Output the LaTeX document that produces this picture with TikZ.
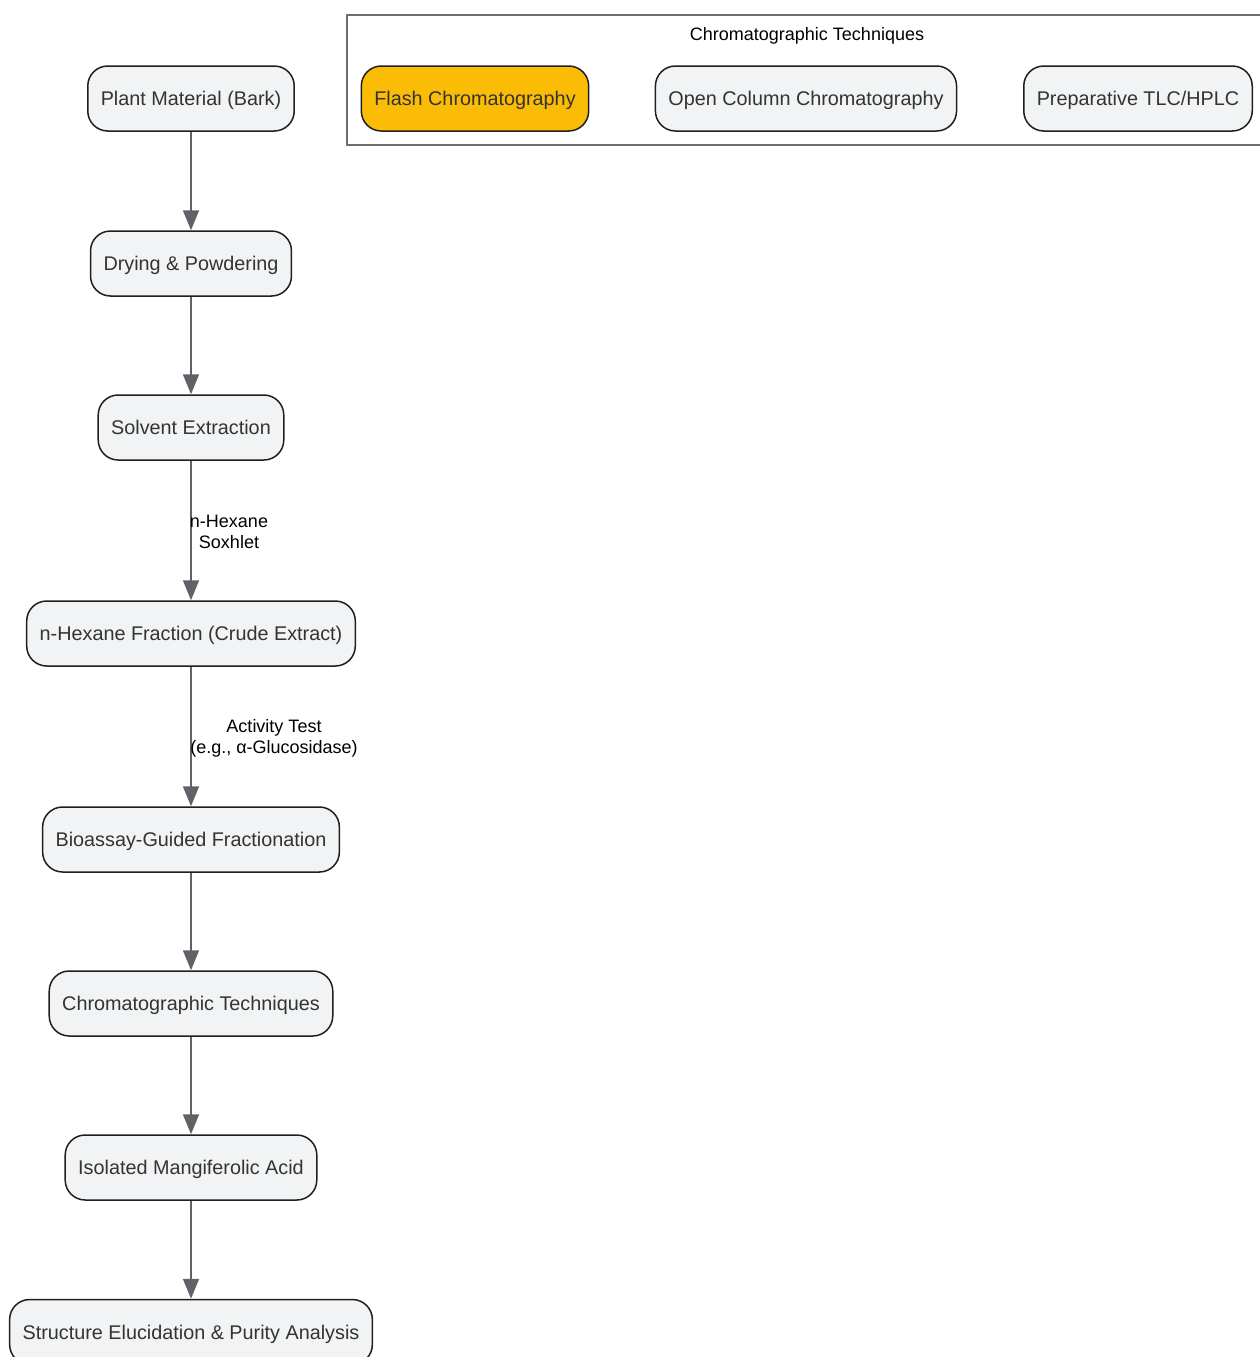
\documentclass[tikz,border=0pt]{standalone}
\usepackage{fontspec}
\setmainfont{Liberation Sans}
\usetikzlibrary{arrows.meta}
\definecolor{boxfill}{HTML}{F1F3F4}
\definecolor{boxline}{HTML}{1F1F1F}
\definecolor{textgray}{HTML}{333333}
\definecolor{edgegray}{HTML}{5F6368}
\definecolor{flashfill}{HTML}{FBBC05}
\definecolor{clusterline}{HTML}{6E6E6E}
\tikzset{
    stepnode/.style={draw=boxline, line width=1.5pt, fill=boxfill, rounded corners=20pt,
        minimum height=65pt, inner xsep=13pt, text height=15pt, text depth=1pt,
        text=textgray, font=\fontsize{19.8}{24}\selectfont},
    flow/.style={draw=edgegray, line width=1.8pt, -{Triangle[width=16pt,length=20pt]}},
    edgelabel/.style={align=center, text=black, font=\fontsize{18}{21}\selectfont}
}
\begin{document}
\begin{tikzpicture}[x=1pt, y=-1pt]
    \useasboundingbox (0, 0) rectangle (1260, 1357);

    % cluster
    \draw[clusterline, line width=1.4pt] (347, 15) rectangle (1275, 145);
    \node[edgelabel] (clustertitle) at (807, 36) {Chromatographic Techniques};
    \node[stepnode, fill=flashfill] (flash) at (475, 98.5) {Flash Chromatography};
    \node[stepnode] (opencol) at (806, 98.5) {Open Column Chromatography};
    \node[stepnode] (prep) at (1138, 98.5) {Preparative TLC/HPLC};

    % main flow
    \node[stepnode] (plant) at (191, 98.5) {Plant Material (Bark)};
    \node[stepnode] (drying) at (191, 263.5) {Drying \& Powdering};
    \node[stepnode] (solvent) at (191, 427.5) {Solvent Extraction};
    \node[stepnode] (hexane) at (191, 633.5) {n-Hexane Fraction (Crude Extract)};
    \node[stepnode] (bioassay) at (191, 839.5) {Bioassay-Guided Fractionation};
    \node[stepnode] (chrom) at (191, 1003.5) {Chromatographic Techniques};
    \node[stepnode] (isolated) at (191, 1167.5) {Isolated Mangiferolic Acid};
    \node[stepnode] (structure) at (191, 1332) {Structure Elucidation \& Purity Analysis};

    \draw[flow] (plant) -- (drying);
    \draw[flow] (drying) -- (solvent);
    \draw[flow] (solvent) -- (hexane);
    \draw[flow] (hexane) -- (bioassay);
    \draw[flow] (bioassay) -- (chrom);
    \draw[flow] (chrom) -- (isolated);
    \draw[flow] (isolated) -- (structure);

    \node[edgelabel] (soxlabel) at (229, 532) {n-Hexane\\Soxhlet};
    \node[edgelabel] (actlabel) at (274, 738) {Activity Test\\(e.g., α-Glucosidase)};
\end{tikzpicture}
\end{document}
